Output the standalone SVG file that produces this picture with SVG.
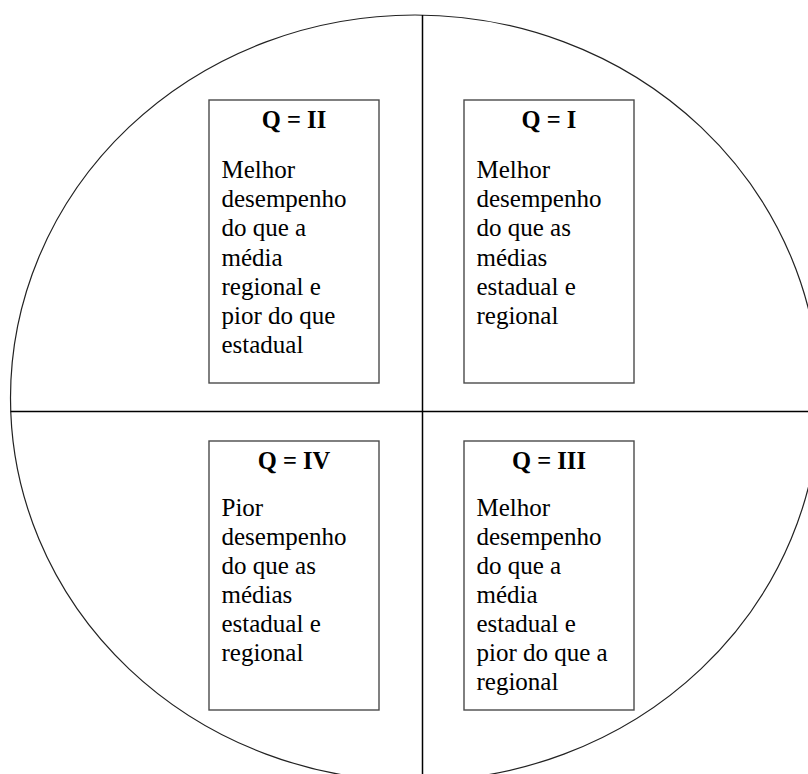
<svg xmlns="http://www.w3.org/2000/svg" width="808" height="774" viewBox="0 0 808 774">
<style>
.bg{fill:#fff}
.ring{fill:none;stroke:#222;stroke-width:1.2}
.axis{stroke:#000;stroke-width:1.5;fill:none}
.box{fill:#fff;stroke:#4a4a4a;stroke-width:1.4}
.title{font-family:"Liberation Serif","Times New Roman",serif;font-weight:bold;font-size:24.5px;fill:#000;text-anchor:middle}
.body{font-family:"Liberation Serif","Times New Roman",serif;font-size:25px;fill:#000}
</style>
<rect class="bg" x="0" y="0" width="808" height="774"/>
<ellipse class="ring" cx="415" cy="398" rx="404.5" ry="383"/>
<g id="connectors">
<line class="axis" x1="10.6" y1="411.5" x2="808" y2="411.5"/>
<line class="axis" x1="422.5" y1="15" x2="422.5" y2="774"/>
</g>
<g id="q2">
<rect class="box" x="209" y="100" width="170" height="283"/>
<text class="title" x="294" y="128">Q = II</text>
<text class="body" x="221.5">
<tspan x="221.5" y="178">Melhor</tspan>
<tspan x="221.5" y="207.2">desempenho</tspan>
<tspan x="221.5" y="236.4">do que a</tspan>
<tspan x="221.5" y="265.6">média</tspan>
<tspan x="221.5" y="294.8">regional e</tspan>
<tspan x="221.5" y="324">pior do que</tspan>
<tspan x="221.5" y="353.2">estadual</tspan>
</text>
</g>
<g id="q1">
<rect class="box" x="464" y="100" width="170" height="283"/>
<text class="title" x="549" y="128">Q = I</text>
<text class="body" x="476.5">
<tspan x="476.5" y="178">Melhor</tspan>
<tspan x="476.5" y="207.2">desempenho</tspan>
<tspan x="476.5" y="236.4">do que as</tspan>
<tspan x="476.5" y="265.6">médias</tspan>
<tspan x="476.5" y="294.8">estadual e</tspan>
<tspan x="476.5" y="324">regional</tspan>
</text>
</g>
<g id="q4">
<rect class="box" x="209" y="441" width="170" height="269"/>
<text class="title" x="294" y="469">Q = IV</text>
<text class="body" x="221.5">
<tspan x="221.5" y="516">Pior</tspan>
<tspan x="221.5" y="545">desempenho</tspan>
<tspan x="221.5" y="574">do que as</tspan>
<tspan x="221.5" y="603">médias</tspan>
<tspan x="221.5" y="632">estadual e</tspan>
<tspan x="221.5" y="661">regional</tspan>
</text>
</g>
<g id="q3">
<rect class="box" x="464" y="441" width="170" height="269"/>
<text class="title" x="549" y="469">Q = III</text>
<text class="body" x="476.5">
<tspan x="476.5" y="516">Melhor</tspan>
<tspan x="476.5" y="545">desempenho</tspan>
<tspan x="476.5" y="574">do que a</tspan>
<tspan x="476.5" y="603">média</tspan>
<tspan x="476.5" y="632">estadual e</tspan>
<tspan x="476.5" y="661">pior do que a</tspan>
<tspan x="476.5" y="690">regional</tspan>
</text>
</g>
</svg>
